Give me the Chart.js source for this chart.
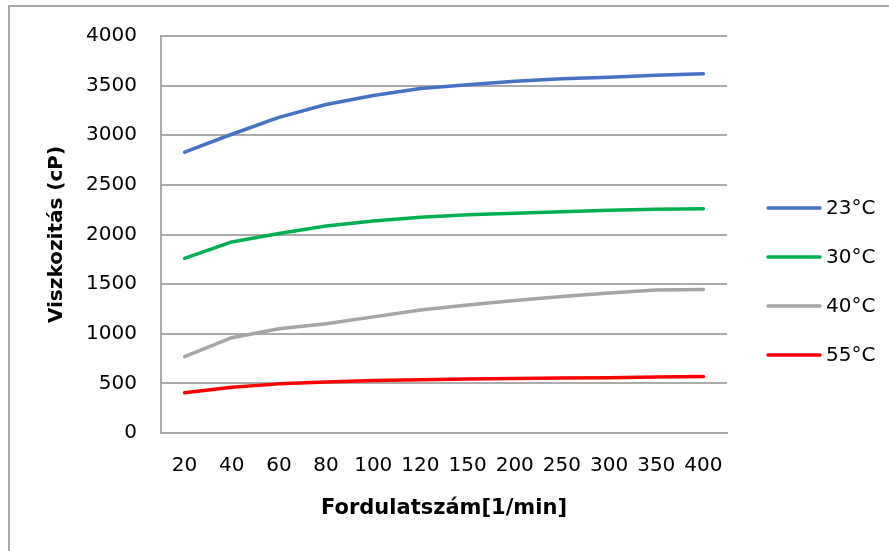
<!DOCTYPE html>
<html>
<head>
<meta charset="utf-8">
<title>Viszkozitás</title>
<script src="https://cdn.jsdelivr.net/npm/chart.js@4.4.0/dist/chart.umd.min.js"></script>
<style>
  html, body { margin: 0; padding: 0; background: #fff; }
  #wrap { position: relative; width: 889px; height: 551px; overflow: hidden; }
  #frame { position: absolute; left: 8px; top: 5px; width: 1000px; height: 1000px; border: 2px solid #a9a9a9; }
  #viscChart { position: absolute; left: 0; top: 0; }
</style>
</head>
<body>
<div id="wrap">
  <div id="frame"></div>
  <canvas id="viscChart" width="889" height="551"></canvas>
</div>
<script>
// fordulatszám (1/min)
const speeds = ['20', '40', '60', '80', '100', '120', '150', '200', '250', '300', '350', '400'];

// viszkozitás (cP) hőmérsékletenként
const visc23 = [2830, 3010, 3180, 3310, 3400, 3470, 3510, 3545, 3570, 3585, 3605, 3620];
const visc30 = [1760, 1925, 2010, 2085, 2135, 2175, 2200, 2215, 2230, 2245, 2255, 2260];
const visc40 = [770, 960, 1050, 1100, 1170, 1240, 1290, 1335, 1375, 1410, 1440, 1445];
const visc55 = [405, 460, 495, 515, 530, 537, 545, 550, 553, 557, 563, 570];

const seriesNames = ['23°C', '30°C', '40°C', '55°C'];
const seriesColors = ['#4472C4', '#00B050', '#A5A5A5', '#FF0000'];

const yTicks = [0, 500, 1000, 1500, 2000, 2500, 3000, 3500, 4000];

const gridColor = '#ababab';
const tickFont = { family: "'DejaVu Sans'", size: 20 };

// legend on the right, drawn by hand so it sits exactly like the Excel one
const sideLegend = {
  id: 'sideLegend',
  afterDraw(chart) {
    const ctx = chart.ctx;
    ctx.save();
    ctx.font = "20px 'DejaVu Sans'";
    ctx.textBaseline = 'middle';
    ctx.lineCap = 'round';
    chart.data.datasets.forEach((ds, i) => {
      const y = 208 + i * 49;
      ctx.strokeStyle = ds.borderColor;
      ctx.lineWidth = ds.borderWidth;
      ctx.beginPath();
      ctx.moveTo(768, y);
      ctx.lineTo(820, y);
      ctx.stroke();
      ctx.fillStyle = '#000';
      ctx.fillText(ds.label, 826, y + 1);
    });
    ctx.restore();
  }
};

const lineSet = (label, values, color) => ({
  label: label,
  data: values,
  borderColor: color,
  backgroundColor: color,
  borderWidth: 3.5,
  borderCapStyle: 'round',
  borderJoinStyle: 'round',
  pointRadius: 0,
  pointHoverRadius: 0,
  tension: 0,
  fill: false,
});

const ctx = document.getElementById('viscChart');
new Chart(ctx, {
  type: 'line',
  data: {
    labels: speeds,
    datasets: [
      lineSet(seriesNames[0], visc23, seriesColors[0]),
      lineSet(seriesNames[1], visc30, seriesColors[1]),
      lineSet(seriesNames[2], visc40, seriesColors[2]),
      lineSet(seriesNames[3], visc55, seriesColors[3]),
    ],
  },
  options: {
    responsive: false,
    devicePixelRatio: 1,
    animation: false,
    events: [],
    layout: {
      padding: { top: 35, right: 162, bottom: 0, left: 0 }
    },
    plugins: {
      legend: { display: false },
      tooltip: { enabled: false },
    },
    scales: {
      x: {
        type: 'category',
        offset: true,
        grid: { display: false, drawTicks: false },
        border: { display: true, color: gridColor, width: 2 },
        ticks: {
          color: '#000',
          font: tickFont,
          padding: 21,
          maxRotation: 0,
          autoSkip: false,
        },
        title: {
          display: true,
          text: 'Fordulatszám[1/min]',
          color: '#000',
          font: { family: "'DejaVu Sans'", size: 21, weight: 'bold' },
          padding: { top: 0, bottom: 30 },
        },
        afterFit(scale) { scale.height = 118; },
      },
      y: {
        min: yTicks[0],
        max: yTicks[yTicks.length - 1],
        afterBuildTicks(scale) { scale.ticks = yTicks.map(v => ({ value: v })); },
        grid: { color: gridColor, lineWidth: 2, drawTicks: false },
        border: { display: true, color: gridColor, width: 2 },
        ticks: {
          color: '#000',
          font: tickFont,
          padding: 24,
          callback: (v) => String(v),
        },
        title: {
          display: true,
          text: 'Viszkozitás (cP)',
          color: '#000',
          font: { family: "'DejaVu Sans'", size: 20, weight: 'bold' },
          padding: { top: 45, bottom: 0 },
        },
        afterFit(scale) { scale.width = 161; },
      },
    },
  },
  plugins: [sideLegend],
});
</script>
</body>
</html>
